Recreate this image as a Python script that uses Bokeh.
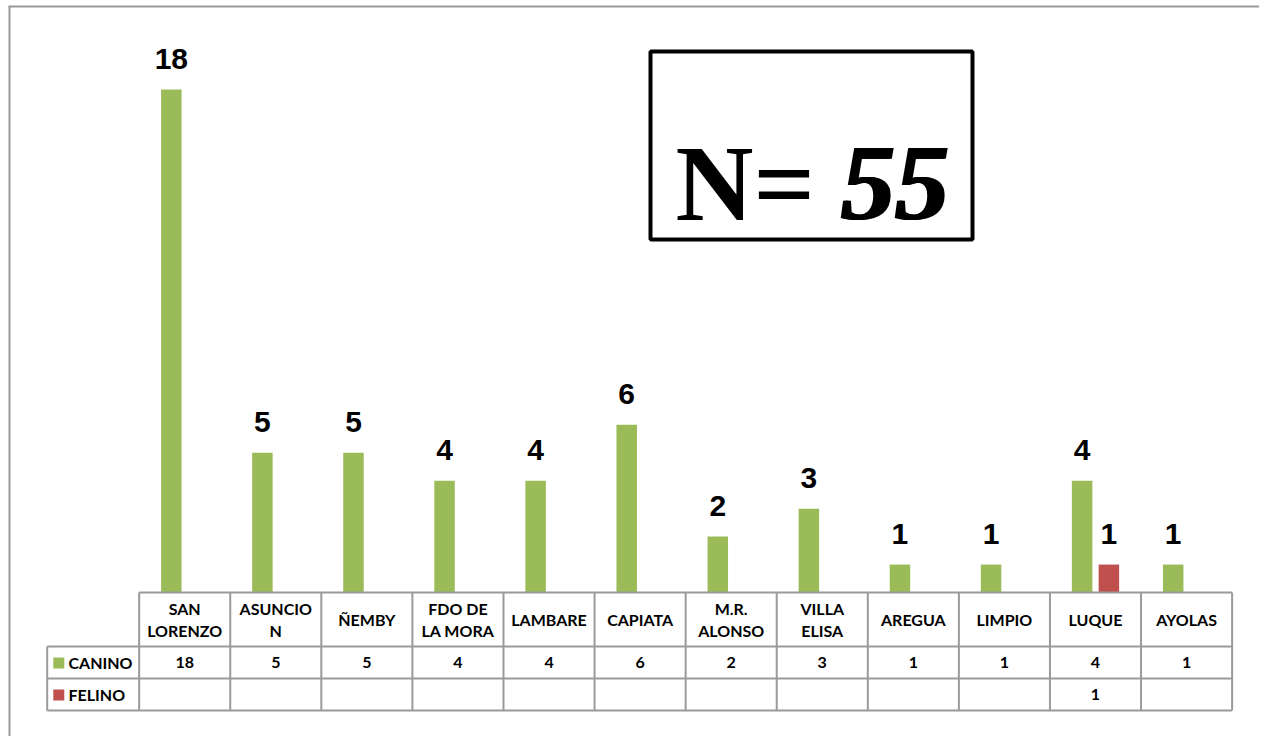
from bokeh.plotting import figure
from bokeh.models import Range1d
from bokeh.core.properties import value
from bokeh.embed import file_html
from bokeh.resources import INLINE

categories = ["SAN\nLORENZO", "ASUNCIO\nN", "ÑEMBY", "FDO DE\nLA MORA", "LAMBARE", "CAPIATA",
              "M.R.\nALONSO", "VILLA\nELISA", "AREGUA", "LIMPIO", "LUQUE", "AYOLAS"]
canino = [18, 5, 5, 4, 4, 6, 2, 3, 1, 1, 4, 1]
felino = [None, None, None, None, None, None, None, None, None, None, 1, None]
series_names = ["CANINO", "FELINO"]
total_label = ("N=", "55")

GREEN = "#9BBB59"
RED = "#C0504D"
GRID = "#9a9a9a"

W, H = 1259, 736
# pixel <-> data helpers (layout only); canvas origin is at page pixel 0
CX0, CDX = 184.2, 91.08
BY0, BDY = 592.0, 27.94


def dx(px):
    return (px - CX0) / CDX


def dy(py):
    return (BY0 - py) / BDY


p = figure(width=W, height=H, output_backend="svg", toolbar_location=None,
           x_range=Range1d(dx(0), dx(W)), y_range=Range1d(dy(H), dy(0)),
           x_axis_location=None, y_axis_location=None, min_border=0,
           outline_line_color=None, background_fill_color="white", border_fill_color="white")
p.xgrid.visible = False
p.ygrid.visible = False

n = len(categories)
idx = list(range(n))
off = 0.147
bw = 0.225

# outer frame (top and left only visible)
p.segment(x0=[dx(8), dx(9)], y0=[dy(6), dy(6)], x1=[dx(1261), dx(9)], y1=[dy(6), dy(738)],
          line_color=GRID, line_width=2)

# bars
p.vbar(x=[i - off for i in idx], top=canino, width=bw, bottom=0, fill_color=GREEN, line_color=None)
f_idx = [i for i, v in zip(idx, felino) if v is not None]
fv = [v for v in felino if v is not None]
fx = [i + off for i in f_idx]
p.vbar(x=fx, top=fv, width=bw, bottom=0, fill_color=RED, line_color=None)

# data labels
lab_gap = 31 / BDY
lab_kw = dict(text_align="center", text_baseline="alphabetic", text_font=value("Liberation Sans"),
              text_font_style="bold", text_font_size="30px", text_color="black")
p.text(x=[i - off for i in idx], y=[v + lab_gap for v in canino], text=[str(v) for v in canino], **lab_kw)
p.text(x=fx, y=[v + lab_gap for v in fv], text=[str(v) for v in fv], **lab_kw)

# data table
y_top, y_r1, y_r2, y_bot = dy(592), dy(646), dy(678), dy(710)
x_left = dx(46.7)
x_first = -0.5
x_last = n - 0.5
hx0 = [x_first, x_left, x_left, x_left]
hx1 = [x_last, x_last, x_last, x_last]
hy = [y_top, y_r1, y_r2, y_bot]
p.segment(x0=hx0, y0=hy, x1=hx1, y1=hy, line_color=GRID, line_width=2)
vx = [x_left] + [i - 0.5 for i in range(n + 1)]
vy0 = [y_r1] + [y_top] * (n + 1)
vy1 = [y_bot] * (n + 2)
p.segment(x0=vx, y0=vy0, x1=vx, y1=vy1, line_color=GRID, line_width=2)

tab_kw = dict(text_align="center", text_baseline="middle", text_font=value("Lato"),
              text_font_style="bold", text_font_size="16px", text_color="black")
p.text(x=idx, y=[dy(619)] * n, text=categories, text_line_height=1.15, **tab_kw)
p.text(x=idx, y=[dy(662)] * n, text=[str(v) for v in canino], **tab_kw)
p.text(x=f_idx, y=[dy(694)] * len(f_idx), text=[str(v) for v in fv], **tab_kw)

# legend keys inside the table
p.scatter(x=[dx(58.3), dx(58.3)], y=[dy(662.5), dy(694.5)], marker="square", size=11,
          fill_color=[GREEN, RED], line_color=None)
p.text(x=[dx(68), dx(68)], y=[dy(662), dy(694)], text=series_names, text_align="left",
       text_baseline="middle", text_font=value("Lato"), text_font_style="bold",
       text_font_size="16px", text_color="black")

# N = 55 box
p.quad(left=[dx(650)], right=[dx(972)], top=[dy(51)], bottom=[dy(239)], fill_color="white",
       line_color="black", line_width=4)
p.text(x=[dx(675)], y=[dy(183)], text=[total_label[0]], text_align="left", text_baseline="alphabetic",
       text_font=value("Liberation Serif"), text_font_style="bold", text_font_size="108px",
       text_color="black")
for shift in (0.0, 1.5, 3.0):
    p.text(x=[dx(839 + shift)], y=[dy(183)], text=[total_label[1]], text_align="left",
           text_baseline="alphabetic", text_font=value("Liberation Serif"),
           text_font_style="bold italic", text_font_size="108px", text_color="black")

open("out.html", "w").write(file_html(p, INLINE))
